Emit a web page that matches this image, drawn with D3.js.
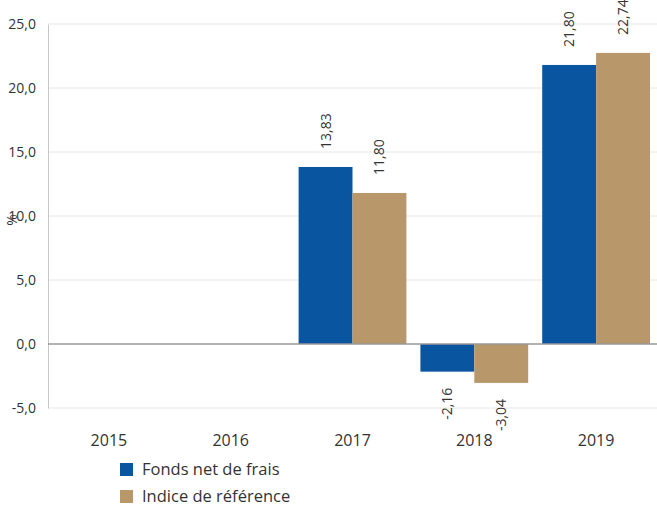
<!DOCTYPE html>
<html lang="fr">
<head>
<meta charset="UTF-8">
<script src="https://d3js.org/d3.v7.min.js"></script>
<style>
  body { margin: 0; background: #fff; }
  text { font-family: "Open Sans", sans-serif; fill: #333; }
</style>
</head>
<body>
<div id="chart"></div>
<script>
// Data
const years = ["2015", "2016", "2017", "2018", "2019"];
const seriesNames = ["Fonds net de frais", "Indice de référence"];
const fonds = [null, null, 13.83, -2.16, 21.80];
const indice = [null, null, 11.80, -3.04, 22.74];
const yTicks = [-5, 0, 5, 10, 15, 20, 25];
const colors = ["#0a55a0", "#b8976a"];

const width = 657, height = 507;
const margin = { top: 24, right: 0, bottom: 99, left: 48 };
const innerW = width - margin.left - margin.right;
const innerH = height - margin.top - margin.bottom;

const svg = d3.select("#chart").append("svg")
  .attr("width", width).attr("height", height);

const g = svg.append("g").attr("transform", `translate(${margin.left},${margin.top})`);

const x = d3.scaleBand().domain(years).range([0, innerW]).paddingInner(0.115).paddingOuter(0.0575);
const x1 = d3.scaleBand().domain(seriesNames).range([0, x.bandwidth()]);
const y = d3.scaleLinear().domain([-5, 25]).range([innerH, 0]);

const fmt = v => v.toFixed(2).replace(".", ",");
const fmt1 = v => v.toFixed(1).replace(".", ",");

// Gridlines
g.append("g").selectAll("line").data(yTicks.filter(d => d !== 0)).join("line")
  .attr("x1", 0).attr("x2", innerW)
  .attr("y1", d => y(d)).attr("y2", d => y(d))
  .attr("stroke", "#e6e6e6").attr("stroke-width", 1);

// Y axis
g.append("g")
  .call(d3.axisLeft(y).tickValues(yTicks).tickFormat(fmt1).tickSize(0).tickPadding(12))
  .call(a => a.select(".domain").attr("stroke", "#c8c8c8"))
  .selectAll("text").style("font-size", "14px").attr("fill", "#333");

// Bars
const rows = years.map((yr, i) => ({ year: yr, vals: [fonds[i], indice[i]] }));
const groups = g.selectAll(".grp").data(rows).join("g")
  .attr("transform", d => `translate(${x(d.year)},0)`);

groups.selectAll("rect")
  .data(d => d.vals.map((v, k) => ({ v, k })).filter(e => e.v !== null))
  .join("rect")
  .attr("x", d => x1(seriesNames[d.k]))
  .attr("y", d => y(Math.max(0, d.v)))
  .attr("width", x1.bandwidth())
  .attr("height", d => Math.abs(y(d.v) - y(0)))
  .attr("fill", d => colors[d.k]);

groups.selectAll("text.lbl")
  .data(d => d.vals.map((v, k) => ({ v, k })).filter(e => e.v !== null))
  .join("text")
  .attr("class", "lbl")
  .attr("transform", d => {
    const cx = x1(seriesNames[d.k]) + x1.bandwidth() / 2;
    const cy = d.v >= 0 ? y(d.v) - 18 : y(d.v) + 16;
    return `translate(${cx + 5},${cy}) rotate(-90)`;
  })
  .attr("text-anchor", d => d.v >= 0 ? "start" : "end")
  .style("font-size", "14px")
  .text(d => fmt(d.v));

// Zero line
g.append("line")
  .attr("x1", 0).attr("x2", innerW)
  .attr("y1", y(0)).attr("y2", y(0))
  .attr("stroke", "#999").attr("stroke-width", 1.5);

// X axis labels
g.append("g")
  .attr("transform", `translate(0,${innerH})`)
  .call(d3.axisBottom(x).tickSize(0).tickPadding(27))
  .call(a => a.select(".domain").remove())
  .selectAll("text").style("font-size", "16px").attr("fill", "#222");

// % label
svg.append("text")
  .attr("transform", `translate(17,${y(10) + margin.top + 4}) rotate(-90)`)
  .attr("text-anchor", "middle")
  .style("font-size", "14px")
  .text("%");

// Legend
const legend = svg.append("g").attr("transform", "translate(120,463)");
legend.selectAll("g").data(seriesNames).join("g")
  .attr("transform", (d, i) => `translate(0,${i * 27})`)
  .each(function (d, i) {
    const s = d3.select(this);
    s.append("rect").attr("width", 13).attr("height", 13).attr("fill", colors[i]);
    s.append("text").attr("x", 22).attr("y", 12).style("font-size", "16.5px").text(d);
  });
</script>
</body>
</html>
